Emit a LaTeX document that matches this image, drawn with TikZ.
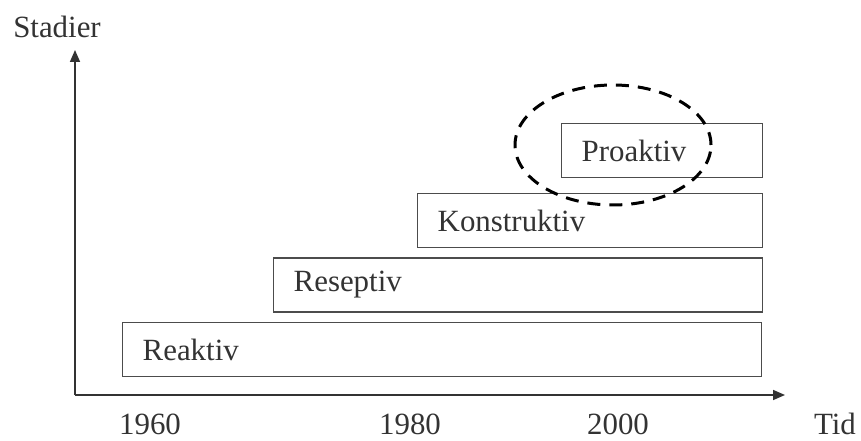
\documentclass[tikz,border=0pt]{standalone}
\usepackage{fontspec}
\setmainfont{Liberation Serif}
\usepackage{tikz}
\usetikzlibrary{arrows.meta, positioning, shapes.geometric}

\begin{document}
\begin{tikzpicture}[x=1bp, y=-1bp,
    every node/.style={font=\fontsize{31}{36}\selectfont, text=black!80},
    >={Triangle[length=12bp, width=10bp]},
    stage/.style={draw=black!70, line width=1.4bp, rectangle, anchor=west,
      minimum height=54bp, inner xsep=20bp, inner ysep=0pt, align=left},
    year/.style={inner sep=0pt}]
  \useasboundingbox (0,0) rectangle (861,441);

  % Axes
  \coordinate (o) at (75,395);
  \coordinate (ytip) at (75,50);
  \coordinate (xtip) at (785,395);
  \draw[->, line width=1.6bp, black!80] (o) -- (ytip);
  \draw[->, line width=1.6bp, black!80] (o) -- (xtip);
  \node[year] (stadier) at (57,27) {Stadier};
  \node[year] (tid) at (835,424) {Tid};

  % Years
  \node[year] (y1960) at (150,424) {1960};
  \node[year] (y1980) at (410,424) {1980};
  \node[year] (y2000) at (618,424) {2000};

  % Stages
  \node[stage, text width=599bp] (reaktiv) at (122,349.5) {Reaktiv};
  \node[stage, text width=449bp] (reseptiv) at (273,285) {Reseptiv};
  \node[stage, text width=305bp] (konstruktiv) at (417,220.5) {Konstruktiv};
  \node[stage, text width=161bp] (proaktiv) at (561,150.5) {Proaktiv};

  % Focus
  \node[ellipse, draw=black, line width=3bp, dash pattern=on 13bp off 9bp,
    minimum width=196bp, minimum height=120bp, inner sep=0pt] (focus) at (613,145) {};
\end{tikzpicture}
\end{document}
